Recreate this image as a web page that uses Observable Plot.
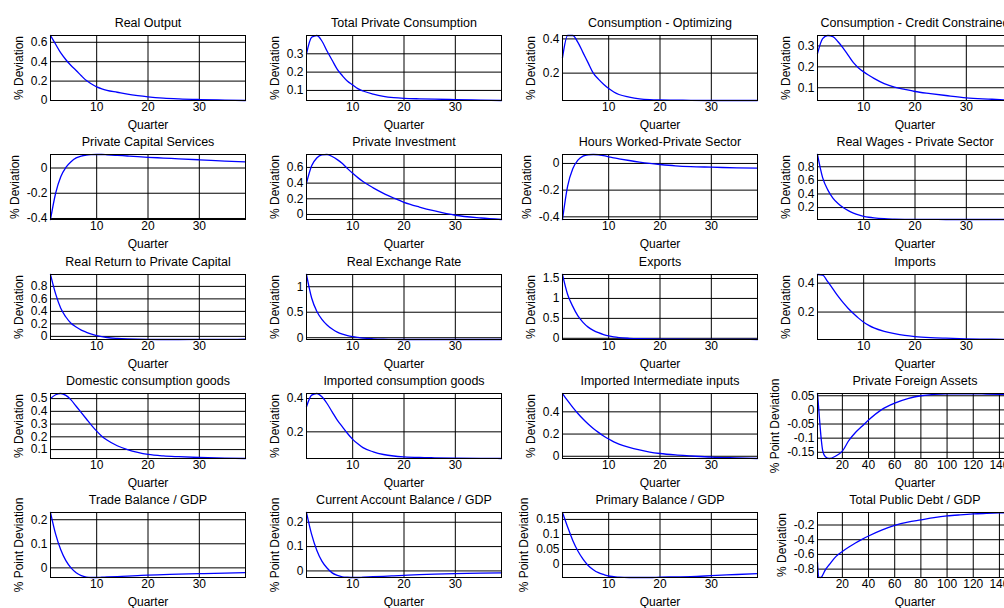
<!DOCTYPE html>
<html><head><meta charset="utf-8">
<script src="https://cdn.jsdelivr.net/npm/d3@7"></script>
<script src="https://cdn.jsdelivr.net/npm/@observablehq/plot@0.6"></script>
<style>
body{margin:0;background:#fff;}
#wrap{position:relative;width:1004px;height:608px;overflow:hidden;background:#fff;}
.panel{position:absolute;width:256px;height:130px;}
.panel svg{max-width:none !important;}
</style></head><body><div id="wrap"></div>
<script>
// ---- data ----
const qShort = [1,2,3,4,5,6,7,8,9,10,11,12,14,16,18,20,23,26,30,35,39];
const qLong  = [1,2,3,4,5,7,10,15,20,25,30,35,40,50,60,70,80,90,100,110,120,130,140,150];
const xTicksShort = [10,20,30];
const xTicksLong = [20,40,60,80,100,120,140];

const realOutput     = [0.67,0.58,0.49,0.42,0.36,0.31,0.255,0.205,0.17,0.14,0.12,0.105,0.085,0.065,0.05,0.038,0.025,0.017,0.01,0.004,0.0];
const totalCons      = [0.30,0.39,0.40,0.37,0.315,0.265,0.215,0.18,0.15,0.13,0.11,0.097,0.08,0.068,0.061,0.057,0.054,0.052,0.05,0.047,0.045];
const consOpt        = [0.29,0.42,0.42,0.38,0.32,0.26,0.20,0.165,0.135,0.11,0.09,0.075,0.06,0.05,0.045,0.043,0.042,0.041,0.04,0.04,0.04];
const consCredit     = [0.263,0.335,0.35,0.345,0.32,0.29,0.255,0.22,0.195,0.176,0.16,0.145,0.12,0.103,0.092,0.082,0.072,0.063,0.052,0.045,0.039];
const capServices    = [-0.408,-0.2,-0.07,0.005,0.05,0.08,0.095,0.103,0.106,0.107,0.107,0.105,0.1,0.095,0.09,0.085,0.079,0.073,0.065,0.055,0.048];
const investment     = [0.40,0.62,0.72,0.76,0.765,0.74,0.70,0.65,0.585,0.525,0.47,0.42,0.34,0.27,0.21,0.155,0.095,0.045,-0.01,-0.045,-0.064];
const hoursWorked    = [-0.42,-0.17,-0.04,0.025,0.055,0.065,0.067,0.065,0.058,0.05,0.042,0.035,0.022,0.01,0.0,-0.008,-0.018,-0.024,-0.028,-0.033,-0.035];
const realWages      = [0.98,0.64,0.46,0.34,0.26,0.20,0.155,0.12,0.092,0.072,0.058,0.048,0.036,0.031,0.028,0.027,0.026,0.025,0.025,0.025,0.025];
const returnCapital  = [0.99,0.68,0.45,0.31,0.21,0.15,0.10,0.065,0.035,0.012,-0.005,-0.018,-0.032,-0.04,-0.045,-0.048,-0.05,-0.05,-0.048,-0.047,-0.046];
const exchangeRate   = [1.24,0.78,0.52,0.36,0.25,0.17,0.11,0.07,0.04,0.02,0.005,-0.008,-0.022,-0.03,-0.034,-0.035,-0.035,-0.035,-0.035,-0.035,-0.035];
const exportsSeries  = [1.6,1.1,0.8,0.56,0.4,0.28,0.2,0.14,0.095,0.06,0.035,0.018,0.0,-0.01,-0.016,-0.02,-0.023,-0.025,-0.026,-0.028,-0.03];
const importsSeries  = [0.46,0.455,0.41,0.36,0.31,0.265,0.225,0.19,0.158,0.13,0.108,0.09,0.066,0.05,0.038,0.03,0.023,0.019,0.015,0.012,0.01];
const domConsGoods   = [0.50,0.53,0.54,0.525,0.49,0.44,0.39,0.34,0.29,0.245,0.205,0.175,0.13,0.10,0.078,0.062,0.05,0.044,0.038,0.033,0.03];
const impConsGoods   = [0.35,0.42,0.43,0.41,0.37,0.32,0.27,0.23,0.19,0.155,0.128,0.105,0.08,0.064,0.055,0.05,0.046,0.044,0.042,0.041,0.04];
const impInputs      = [0.565,0.5,0.44,0.385,0.335,0.29,0.25,0.215,0.183,0.155,0.13,0.11,0.08,0.057,0.038,0.025,0.012,0.003,-0.008,-0.015,-0.02];
const foreignAssets  = [0.058,0.0,-0.06,-0.11,-0.145,-0.166,-0.172,-0.163,-0.146,-0.108,-0.08,-0.058,-0.036,0.001,0.024,0.04,0.05,0.055,0.057,0.057,0.057,0.056,0.055,0.054];
const tradeBalance   = [0.23,0.14,0.075,0.03,0.0,-0.02,-0.032,-0.038,-0.04,-0.04,-0.039,-0.038,-0.036,-0.034,-0.032,-0.03,-0.028,-0.026,-0.024,-0.022,-0.02];
const currentAccount = [0.24,0.15,0.085,0.04,0.012,-0.008,-0.018,-0.024,-0.026,-0.027,-0.027,-0.026,-0.024,-0.022,-0.02,-0.018,-0.015,-0.013,-0.011,-0.009,-0.008];
const primaryBalance = [0.173,0.125,0.08,0.045,0.018,-0.003,-0.017,-0.027,-0.033,-0.038,-0.04,-0.042,-0.043,-0.043,-0.043,-0.042,-0.041,-0.04,-0.037,-0.033,-0.03];
const publicDebt     = [-0.71,-0.91,-0.914,-0.91,-0.88,-0.81,-0.74,-0.63,-0.56,-0.5,-0.445,-0.395,-0.35,-0.27,-0.205,-0.16,-0.13,-0.1,-0.077,-0.062,-0.05,-0.042,-0.035,-0.03];

const panels = [
  {title:"Real Output", ylabel:"% Deviation", q:qShort, v:realOutput, xt:xTicksShort, yt:[0,0.2,0.4,0.6]},
  {title:"Total Private Consumption", ylabel:"% Deviation", q:qShort, v:totalCons, xt:xTicksShort, yt:[0.1,0.2,0.3]},
  {title:"Consumption - Optimizing", ylabel:"% Deviation", q:qShort, v:consOpt, xt:xTicksShort, yt:[0.2,0.4]},
  {title:"Consumption - Credit Constrained", ylabel:"% Deviation", q:qShort, v:consCredit, xt:xTicksShort, yt:[0.1,0.2,0.3]},
  {title:"Private Capital Services", ylabel:"% Deviation", q:qShort, v:capServices, xt:xTicksShort, yt:[-0.4,-0.2,0]},
  {title:"Private Investment", ylabel:"% Deviation", q:qShort, v:investment, xt:xTicksShort, yt:[0,0.2,0.4,0.6]},
  {title:"Hours Worked-Private Sector", ylabel:"% Deviation", q:qShort, v:hoursWorked, xt:xTicksShort, yt:[-0.4,-0.2,0]},
  {title:"Real Wages - Private Sector", ylabel:"% Deviation", q:qShort, v:realWages, xt:xTicksShort, yt:[0.2,0.4,0.6,0.8]},
  {title:"Real Return to Private Capital", ylabel:"% Deviation", q:qShort, v:returnCapital, xt:xTicksShort, yt:[0,0.2,0.4,0.6,0.8]},
  {title:"Real Exchange Rate", ylabel:"% Deviation", q:qShort, v:exchangeRate, xt:xTicksShort, yt:[0,0.5,1]},
  {title:"Exports", ylabel:"% Deviation", q:qShort, v:exportsSeries, xt:xTicksShort, yt:[0,0.5,1,1.5]},
  {title:"Imports", ylabel:"% Deviation", q:qShort, v:importsSeries, xt:xTicksShort, yt:[0.2,0.4]},
  {title:"Domestic consumption goods", ylabel:"% Deviation", q:qShort, v:domConsGoods, xt:xTicksShort, yt:[0.1,0.2,0.3,0.4,0.5]},
  {title:"Imported consumption goods", ylabel:"% Deviation", q:qShort, v:impConsGoods, xt:xTicksShort, yt:[0.2,0.4]},
  {title:"Imported Intermediate inputs", ylabel:"% Deviation", q:qShort, v:impInputs, xt:xTicksShort, yt:[0,0.2,0.4]},
  {title:"Private Foreign Assets", ylabel:"% Point Deviation", q:qLong, v:foreignAssets, xt:xTicksLong, yt:[-0.15,-0.1,-0.05,0,0.05]},
  {title:"Trade Balance / GDP", ylabel:"% Point Deviation", q:qShort, v:tradeBalance, xt:xTicksShort, yt:[0,0.1,0.2]},
  {title:"Current Account Balance / GDP", ylabel:"% Point Deviation", q:qShort, v:currentAccount, xt:xTicksShort, yt:[0,0.1,0.2]},
  {title:"Primary Balance / GDP", ylabel:"% Point Deviation", q:qShort, v:primaryBalance, xt:xTicksShort, yt:[0,0.05,0.1,0.15]},
  {title:"Total Public Debt / GDP", ylabel:"% Deviation", q:qLong, v:publicDebt, xt:xTicksLong, yt:[-0.8,-0.6,-0.4,-0.2]}
];

// ---- drawing ----
const FONT = '"Liberation Sans", Arial, sans-serif';
const fmt = d => d === 0 ? "0" : String(d);
const ctx = document.createElement("canvas").getContext("2d");
ctx.font = "12px " + FONT;
const wrap = document.getElementById("wrap");
const colLeft = [0, 256, 512, 767];
const rowStep = 119.25;

panels.forEach((p, i) => {
  const col = i % 4, row = Math.floor(i / 4);
  const data = p.q.map((q, j) => ({q, v: p.v[j]}));
  const xDomain = p.q === qLong ? [1, 150] : [1, 39];
  const yDomain = d3.extent(p.v);
  const tickW = d3.max(p.yt, t => ctx.measureText(fmt(t)).width);
  const chart = Plot.plot({
    width: 256, height: 130,
    marginLeft: 50, marginRight: 11, marginTop: 35, marginBottom: 30,
    style: {fontFamily: FONT, fontSize: "12px", color: "#000", background: "transparent", overflow: "visible", maxWidth: "none"},
    x: {domain: xDomain, ticks: p.xt, tickSize: 0, tickPadding: 2, tickFormat: fmt, label: null},
    y: {domain: yDomain, ticks: p.yt, tickSize: 0, tickPadding: 3, tickFormat: fmt, label: null},
    marks: [
      Plot.ruleX(p.xt, {stroke: "#000", strokeWidth: 1}),
      Plot.ruleY(p.yt, {stroke: "#000", strokeWidth: 1}),
      Plot.line(data, {x: "q", y: "v", stroke: "#0000ff", strokeWidth: 1.3, curve: "monotone-x"}),
      Plot.frame({stroke: "#000", strokeWidth: 1}),
      Plot.text([p.title], {frameAnchor: "top", lineAnchor: "middle", dy: -12.5, fontSize: 12.5, fill: "#000"}),
      Plot.text(["Quarter"], {frameAnchor: "bottom", lineAnchor: "middle", dy: 25, fontSize: 12, fill: "#000"}),
      Plot.text([p.ylabel], {frameAnchor: "left", textAnchor: "middle", lineAnchor: "middle", rotate: -90, dx: -(tickW + 3 + 11.5), fontSize: 12, fill: "#000"})
    ]
  });
  const div = document.createElement("div");
  div.className = "panel";
  div.style.left = colLeft[col] + "px";
  div.style.top = (row * rowStep) + "px";
  div.appendChild(chart);
  wrap.appendChild(div);
});
</script></body></html>
